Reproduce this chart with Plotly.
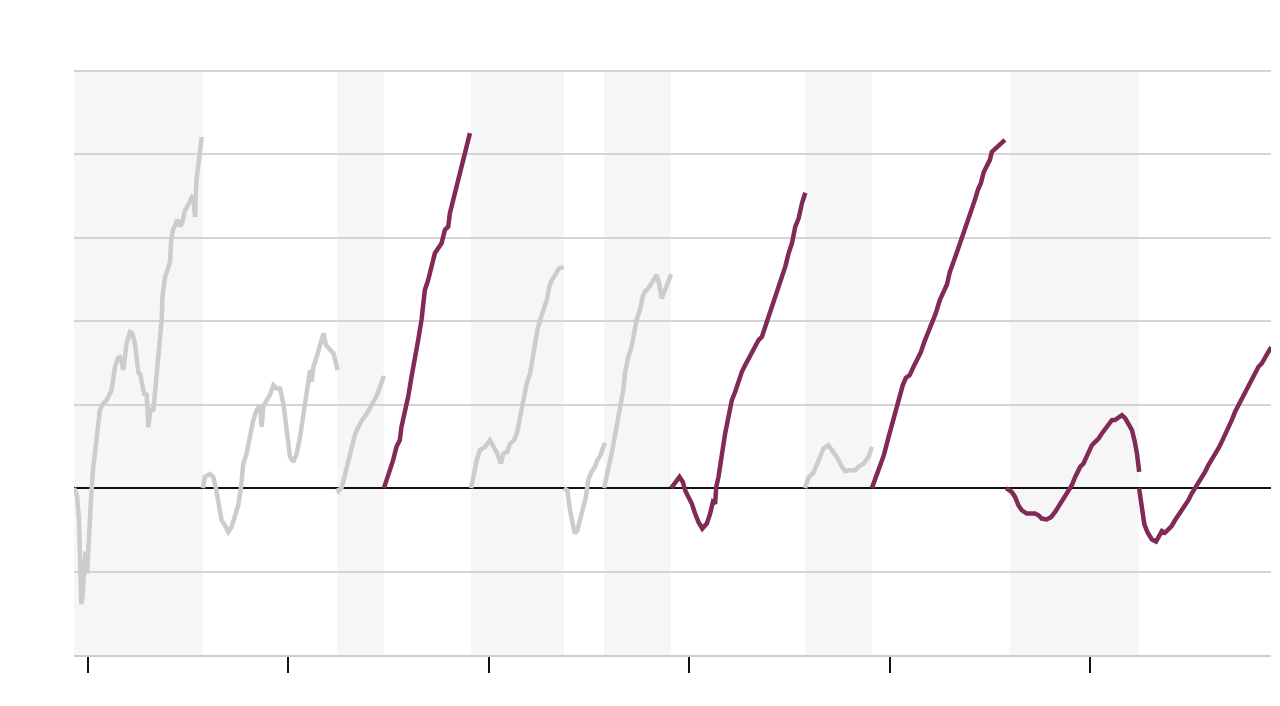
import plotly.graph_objects as go

# x axis: years (tick every 6 years), y axis: percent change since term start
GRAY = "#cccccc"
PURPLE = "#812a56"

# Segment start positions (years on the x axis)
starts = [-0.42, 3.44, 7.46, 8.86, 11.47, 14.25, 15.45, 17.46, 21.47, 23.47, 27.49, 31.47]
groups = ["g", "g", "g", "p", "g", "g", "g", "p", "g", "p", "p", "p"]

# Shaded periods (years)
band_start = [-0.42, 7.46, 11.47, 15.45, 21.47, 27.60]
band_end = [3.44, 8.86, 14.25, 17.46, 23.47, 31.47]

# months since segment start, percent change
s1_m = [0, 1.1, 1.8, 2.2, 2.4, 2.6, 3.0, 3.6, 4.1, 4.7, 5.2, 6.1, 6.8, 7.5, 8.2, 9.3, 10.5, 11.5, 12.3, 13.5,
        14.7, 15.8, 16.5, 17.2, 17.7, 18.3, 18.9, 20.1, 20.8, 21.9, 22.7, 23.2, 23.7, 24.3, 24.9, 25.3, 26.1,
        26.7, 27.3, 27.8, 28.5, 29.7, 30.5, 31.5, 31.8, 32.7, 33.8, 34.5, 34.9, 35.7, 36.3, 36.9, 37.4, 38.1,
        38.8, 39.3, 39.9, 40.4, 41.1, 41.7, 42.4, 42.9, 43.5, 44.0, 44.9, 45.9]
s1_v = [0, -1.7, -7.7, -16, -21, -27.8, -26.5, -17, -15.2, -20.5, -12.5, -2.9, 4.3, 8.5, 13.9, 18.7, 20.4, 20.9,
        21.8, 23.5, 29.0, 31.2, 31.4, 30.2, 28.3, 32.6, 34.8, 37.4, 37.2, 34.8, 30.7, 27.3, 27.6, 25.4, 24.2,
        22.3, 22.8, 14.6, 18.0, 19.2, 18.5, 25.9, 33.1, 40.3, 46.0, 50.6, 52.8, 54.2, 59.5, 62.3, 62.8, 64.0,
        64.0, 62.8, 63.5, 65.5, 66.7, 67.1, 68.3, 69.3, 69.8, 69.5, 65.0, 73.9, 79.1, 84.2]

s2_m = [0, 0.7, 2.5, 3.7, 4.6, 5.5, 6.7, 7.9, 9.1, 10.3, 11.5, 12.7, 13.7, 14.5, 15.7, 16.9, 18.1, 19.3, 20.5,
        21.1, 21.7, 22.9, 24.1, 25.3, 26.5, 27.7, 28.9, 30.1, 31.3, 32.5, 33.7, 34.9, 36.1, 37.3, 38.5, 39.1,
        39.7, 40.9, 42.1, 43.3, 44.2, 45.7, 46.9, 48.4]
s2_v = [0, 2.7, 3.4, 2.7, 0.3, -3.7, -7.7, -8.9, -10.5, -9.3, -6.9, -4.1, 0.3, 5.9, 8.3, 12.3, 16.3, 18.7, 19.9,
        14.7, 19.5, 21.1, 22.3, 24.7, 23.9, 23.9, 20.3, 13.9, 7.5, 6.3, 8.3, 12.3, 17.9, 24.3, 28.3, 25.5,
        29.1, 31.5, 34.7, 37.1, 34.3, 33.1, 32.3, 28.3]

s3_m = [0, 0.5, 1.7, 2.9, 4.1, 5.3, 6.5, 7.7, 8.9, 10.3, 11.5, 12.7, 14.3, 15.5, 16.8]
s3_v = [0, -0.7, 0.3, 3.5, 6.7, 9.9, 13.1, 14.7, 16.3, 17.5, 18.7, 20.3, 22.3, 24.7, 26.9]

s4_m = [0, 1.0, 2.2, 3.3, 4.5, 5.7, 6.3, 7.5, 8.7, 9.9, 11.1, 12.3, 13.5, 14.7, 15.9, 17.1, 18.3, 19.5, 20.7,
        21.9, 23.1, 23.7, 24.3, 25.5, 26.7, 27.9, 29.1, 30.9]
s4_v = [0, 1.9, 4.3, 6.7, 9.9, 11.5, 14.7, 17.9, 21.9, 26.7, 30.7, 35.5, 40.3, 47.5, 49.9, 53.1, 56.3, 57.5,
        58.7, 61.9, 62.7, 65.9, 67.5, 69.9, 73.1, 76.3, 80.3, 85.1]

s5_m = [0, 0.8, 2.0, 3.2, 5.0, 6.8, 8.0, 9.4, 10.7, 11.6, 13.0, 14.0, 15.4, 16.6, 17.6, 18.8, 20.0, 21.2, 22.4,
        23.8, 24.8, 26.0, 27.2, 28.1, 29.0, 30.2, 31.6, 33.2]
s5_v = [0, 2.7, 6.7, 9.1, 9.9, 11.5, 9.9, 8.3, 5.9, 8.3, 8.7, 10.7, 11.5, 13.5, 17.1, 21.1, 25.1, 27.5, 33.1,
        37.9, 40.3, 42.7, 45.1, 48.3, 49.9, 51.1, 52.7, 53.0]

s6_m = [0, 1.2, 2.2, 3.1, 3.9, 4.8, 5.7, 6.9, 7.9, 8.7, 9.9, 11.1, 12.0, 12.9, 13.9, 14.7]
s6_v = [0, -0.5, -5.4, -8.5, -10.9, -10.1, -7.7, -4.5, -2.1, 1.9, 3.9, 5.1, 6.7, 7.5, 9.1, 10.9]

s7_m = [0, 1.0, 2.2, 3.4, 4.6, 5.7, 6.9, 7.5, 8.7, 9.9, 10.8, 11.7, 12.9, 13.9, 14.7, 15.9, 17.1, 18.9, 19.8,
        20.7, 21.9, 23.1, 24.1]
s7_v = [0, 2.7, 6.7, 10.7, 14.7, 18.7, 23.5, 27.5, 31.5, 33.9, 37.1, 40.3, 42.7, 45.9, 47.1, 47.9, 49.1, 51.1,
        49.1, 45.5, 47.5, 49.9, 51.3]

s8_m = [0, 1.4, 3.0, 4.2, 5.0, 6.2, 7.4, 8.6, 9.8, 11.2, 12.8, 14.0, 15.0, 15.8, 16.2, 17.0, 18.2, 19.4, 20.6,
        21.8, 23.0, 24.2, 25.4, 26.6, 27.8, 29.0, 30.2, 31.4, 32.6, 33.8, 35.0, 36.2, 37.4, 38.6, 39.8, 41.0,
        42.2, 43.4, 44.6, 45.8, 47.0, 48.2]
s8_v = [0, 1.5, 2.7, 1.5, -0.5, -2.1, -3.7, -6.1, -8.1, -9.7, -8.5, -6.1, -3.3, -3.7, 0.3, 2.7, 8.3, 13.1, 17.1,
        21.1, 23.1, 25.9, 27.9, 29.5, 31.1, 32.7, 34.3, 35.5, 36.3, 38.7, 40.7, 42.7, 45.5, 48.3, 50.7, 53.1,
        56.3, 58.7, 62.7, 64.7, 68.3, 70.8]

s9_m = [0, 1.2, 3.0, 4.2, 5.4, 6.6, 8.4, 9.6, 11.4, 13.2, 14.4, 16.2, 18.0, 19.2, 21.0, 22.8, 24.0]
s9_v = [0, 2.5, 3.7, 5.9, 7.5, 9.5, 10.3, 9.1, 7.5, 5.1, 4.1, 4.3, 4.3, 5.1, 5.9, 7.5, 9.9]

s10_m = [0, 1.4, 2.9, 4.3, 5.7, 7.2, 8.6, 10.0, 11.1, 12.2, 13.6, 15.1, 16.5, 17.6, 18.7, 19.8, 20.8, 21.9,
         23.0, 24.4, 25.9, 27.0, 28.0, 29.1, 30.2, 31.6, 32.7, 33.8, 34.9, 35.9, 37.0, 38.1, 39.2, 40.2, 41.3,
         42.4, 43.1, 44.2, 45.6, 46.7, 47.8]
s10_v = [0, 2.4, 5.3, 7.9, 11.5, 15.1, 18.7, 22.3, 24.7, 26.4, 27.1, 29.3, 31.2, 32.6, 34.8, 36.5, 38.4, 39.8,
         42.0, 45.1, 47.5, 48.9, 51.8, 54.2, 55.9, 58.6, 60.7, 62.4, 64.8, 66.7, 69.1, 71.5, 73.2, 75.8, 77.5,
         78.7, 80.6, 81.3, 82.3, 82.8, 83.5]

s11_m = [0, 2.0, 3.2, 4.4, 5.6, 7.4, 9.2, 10.4, 11.6, 12.8, 14.6, 16.2, 17.6, 18.8, 20.0, 21.2, 22.4, 23.6,
         24.8, 26.6, 27.8, 29.0, 30.8, 32.0, 33.2, 34.4, 35.6, 36.8, 38.0, 39.2, 40.4, 41.6, 42.8, 44.0, 45.2,
         46.1, 47.0, 47.8]
s11_v = [0, -0.9, -2.1, -4.1, -5.3, -6.1, -6.1, -6.1, -6.5, -7.3, -7.5, -6.9, -5.7, -4.5, -2.9, -2.1, -0.9,
         0.7, 2.7, 5.1, 5.9, 7.5, 10.3, 11.1, 11.9, 13.1, 14.3, 15.3, 16.3, 16.4, 16.9, 17.5, 16.7, 15.5, 13.9,
         11.5, 8.3, 3.9]

s12_m = [0, 1.0, 1.9, 3.1, 4.6, 6.1, 7.2, 8.2, 9.3, 10.5, 11.7, 12.9, 14.1, 15.3, 16.5, 17.7, 18.9, 20.1,
         21.3, 22.5, 23.7, 24.9, 26.1, 27.3, 28.5, 29.7, 30.9, 32.1, 33.3, 34.5, 35.7, 36.9, 38.1, 39.3, 40.5,
         41.7, 42.9, 44.1, 45.3, 46.5, 47.5]
s12_v = [0, -4.7, -8.7, -10.7, -12.3, -12.8, -11.5, -10.3, -10.7, -9.9, -9.1, -7.7, -6.5, -5.7, -4.5, -2.9,
         -1.3, -0.1, 1.1, 2.3, 3.9, 5.5, 6.7, 8.3, 9.5, 11.1, 12.7, 14.7, 16.3, 18.3, 19.9, 21.5, 23.1, 24.3,
         25.9, 27.5, 29.1, 29.9, 31.5, 32.7, 33.8]

segments = [(s1_m, s1_v), (s2_m, s2_v), (s3_m, s3_v), (s4_m, s4_v), (s5_m, s5_v), (s6_m, s6_v),
            (s7_m, s7_v), (s8_m, s8_v), (s9_m, s9_v), (s10_m, s10_v), (s11_m, s11_v), (s12_m, s12_v)]

tick_years = [0, 6, 12, 18, 24, 30]
grid_vals = [-20, 0, 20, 40, 60, 80, 100]
x_range = [-0.42, 35.42]
y_range = [-40, 100]

fig = go.Figure()

for x0, x1 in zip(band_start, band_end):
    fig.add_vrect(x0=x0, x1=x1, fillcolor="#f6f6f6", line_width=0, layer="below")

# top gridline sits on the range edge; draw it unclipped along the plot's top
fig.add_shape(type="line", xref="paper", yref="paper", x0=0, x1=1, y0=1, y1=1,
              line=dict(color="#d4d4d4", width=2), layer="below")

for start, grp, (ms, vs) in zip(starts, groups, segments):
    fig.add_trace(go.Scatter(
        x=[start + m / 12 for m in ms], y=vs, mode="lines",
        line=dict(color=PURPLE if grp == "p" else GRAY, width=4.5),
        hoverinfo="skip", showlegend=False,
    ))

fig.update_layout(
    width=1272, height=698,
    margin=dict(l=66, r=9, t=63, b=51),
    paper_bgcolor="white", plot_bgcolor="white",
    showlegend=False,
)
fig.update_xaxes(
    range=x_range, tickvals=tick_years, showticklabels=False,
    ticks="outside", ticklen=16, tickwidth=2, tickcolor="#111111",
    showgrid=False, zeroline=False, showline=True, linecolor="#cccccc", linewidth=2,
)
fig.update_yaxes(
    range=y_range, tickvals=grid_vals, showticklabels=False, ticks="",
    showgrid=True, gridcolor="#d4d4d4", gridwidth=2,
    zeroline=True, zerolinecolor="#111111", zerolinewidth=2, showline=False,
)

fig.write_html("out.html")
